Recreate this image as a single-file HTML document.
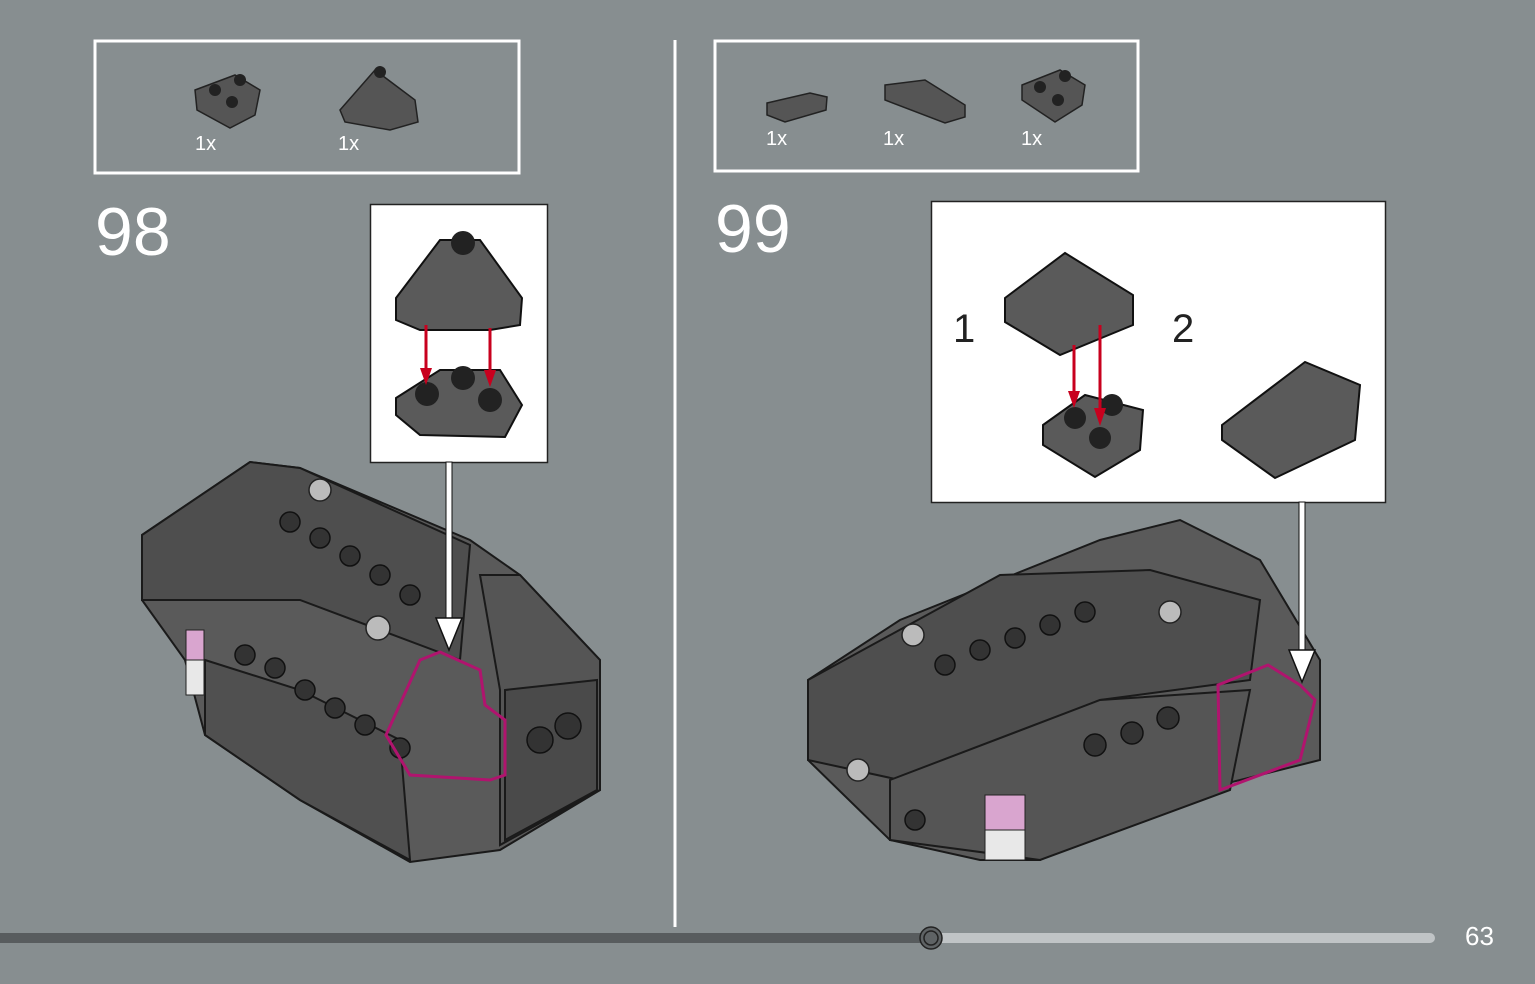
<!DOCTYPE html>
<html><head><meta charset="utf-8"><style>
html,body{margin:0;padding:0;background:#878e90;}
svg{display:block;font-family:"Liberation Sans",sans-serif;}
</style></head><body>
<svg width="1535" height="984" viewBox="0 0 1535 984" xmlns="http://www.w3.org/2000/svg">
<rect width="1535" height="984" fill="#878e90"/>
<line x1="675" y1="40" x2="675" y2="927" stroke="#fff" stroke-width="3"/>
<rect x="95" y="41" width="424" height="132" fill="none" stroke="#fff" stroke-width="3"/>
<rect x="715" y="41" width="423" height="130" fill="none" stroke="#fff" stroke-width="3"/>
<g fill="#555" stroke="#222" stroke-width="1.5">
<polygon points="195,90 235,75 260,90 255,115 230,128 197,110"/>
<polygon points="340,110 375,70 415,100 418,122 390,130 345,122"/>
<polygon points="767,103 810,93 827,97 826,110 785,122 767,115"/>
<polygon points="885,85 925,80 965,105 965,117 945,123 885,100"/>
<polygon points="1022,85 1060,70 1085,85 1082,105 1055,122 1022,100"/>
</g>
<g fill="#222"><circle cx="215" cy="90" r="6"/><circle cx="240" cy="80" r="6"/><circle cx="232" cy="102" r="6"/><circle cx="380" cy="72" r="6"/><circle cx="1040" cy="87" r="6"/><circle cx="1065" cy="76" r="6"/><circle cx="1058" cy="100" r="6"/></g>
<g fill="#fff" font-size="20"><text x="195" y="150">1x</text><text x="338" y="150">1x</text><text x="766" y="145">1x</text><text x="883" y="145">1x</text><text x="1021" y="145">1x</text></g>
<g fill="#fff" font-size="68"><text x="95" y="255">98</text><text x="715" y="252">99</text></g>
<!-- model 98 -->
<g fill="#5a5a5a" stroke="#1a1a1a" stroke-width="2">
<polygon points="142,535 250,462 300,468 470,540 520,575 600,660 600,790 500,850 410,862 300,800 205,735 185,660 142,600"/>
<polygon points="142,535 250,462 300,468 470,545 460,660 300,600 142,600" fill="#4e4e4e"/>
<polygon points="480,575 520,575 600,660 600,790 500,845 500,690" fill="#555"/>
<polygon points="205,660 300,690 400,740 410,860 300,800 205,735" fill="#505050"/>
<polygon points="505,690 597,680 597,790 505,840" fill="#4a4a4a"/>
</g>
<g fill="#333" stroke="#111" stroke-width="1.5">
<circle cx="290" cy="522" r="10"/><circle cx="320" cy="538" r="10"/><circle cx="350" cy="556" r="10"/><circle cx="380" cy="575" r="10"/><circle cx="410" cy="595" r="10"/>
<circle cx="245" cy="655" r="10"/><circle cx="275" cy="668" r="10"/><circle cx="305" cy="690" r="10"/><circle cx="335" cy="708" r="10"/><circle cx="365" cy="725" r="10"/><circle cx="400" cy="748" r="10"/>
<circle cx="540" cy="740" r="13"/><circle cx="568" cy="726" r="13"/>
</g>
<g fill="#bbb" stroke="#222" stroke-width="1.5"><circle cx="320" cy="490" r="11"/><circle cx="378" cy="628" r="12"/></g>
<!-- model 99 -->
<g fill="#5a5a5a" stroke="#1a1a1a" stroke-width="2">
<polygon points="808,680 900,620 1100,540 1180,520 1260,560 1320,660 1320,760 1200,790 1040,860 980,860 890,840 808,760"/>
<polygon points="808,680 1000,575 1150,570 1260,600 1250,680 1100,700 900,780 808,760" fill="#4e4e4e"/>
<polygon points="890,780 1100,700 1250,690 1230,790 1040,860 890,840" fill="#555"/>
</g>
<g fill="#333" stroke="#111" stroke-width="1.5">
<circle cx="945" cy="665" r="10"/><circle cx="980" cy="650" r="10"/><circle cx="1015" cy="638" r="10"/><circle cx="1050" cy="625" r="10"/><circle cx="1085" cy="612" r="10"/>
<circle cx="1095" cy="745" r="11"/><circle cx="1132" cy="733" r="11"/><circle cx="1168" cy="718" r="11"/><circle cx="915" cy="820" r="10"/>
</g>
<g fill="#bbb" stroke="#222" stroke-width="1.5"><circle cx="913" cy="635" r="11"/><circle cx="1170" cy="612" r="11"/><circle cx="858" cy="770" r="11"/></g>
<rect x="985" y="795" width="40" height="35" fill="#d9a5cf" stroke="#222"/>
<rect x="985" y="830" width="40" height="30" fill="#e8e8e8" stroke="#222"/>
<rect x="186" y="630" width="18" height="30" fill="#d9a5cf" stroke="#222"/>
<rect x="186" y="660" width="18" height="35" fill="#e8e8e8" stroke="#222"/>
<polygon points="386,735 420,660 440,652 480,670 485,705 505,720 505,775 490,780 410,775" fill="none" stroke="#b0146e" stroke-width="3"/>
<polygon points="1218,685 1268,665 1300,685 1315,700 1300,760 1220,790" fill="none" stroke="#b0146e" stroke-width="3"/>
<!-- insets -->
<rect x="370.5" y="204.5" width="177" height="258" fill="#fff" stroke="#222" stroke-width="1.5"/>
<rect x="931.5" y="201.5" width="454" height="301" fill="#fff" stroke="#222" stroke-width="1.5"/>
<g fill="#5a5a5a" stroke="#111" stroke-width="2">
<polygon points="396,298 440,240 480,240 522,298 520,325 490,330 420,330 396,320"/>
<polygon points="396,398 440,370 500,370 522,405 505,437 420,435 396,415"/>
<polygon points="1005,298 1065,253 1133,295 1133,325 1060,355 1005,322"/>
<polygon points="1043,425 1085,395 1143,410 1140,450 1095,477 1043,445"/>
<polygon points="1222,425 1305,362 1360,385 1355,440 1275,478 1222,440"/>
</g>
<g fill="#222"><circle cx="463" cy="243" r="12"/><circle cx="427" cy="394" r="12"/><circle cx="463" cy="378" r="12"/><circle cx="490" cy="400" r="12"/><circle cx="1075" cy="418" r="11"/><circle cx="1112" cy="405" r="11"/><circle cx="1100" cy="438" r="11"/></g>
<g stroke="#c8001e" stroke-width="3" fill="#c8001e">
<line x1="426" y1="325" x2="426" y2="370"/><polygon points="420,368 432,368 426,385" stroke="none"/>
<line x1="490" y1="328" x2="490" y2="372"/><polygon points="484,370 496,370 490,387" stroke="none"/>
<line x1="1074" y1="345" x2="1074" y2="393"/><polygon points="1068,391 1080,391 1074,408" stroke="none"/>
<line x1="1100" y1="325" x2="1100" y2="410"/><polygon points="1094,408 1106,408 1100,426" stroke="none"/>
</g>
<g fill="#222" font-size="40"><text x="953" y="342">1</text><text x="1172" y="342">2</text></g>
<rect x="446" y="462" width="6" height="160" fill="#fff" stroke="#111" stroke-width="1"/>
<polygon points="436,618 462,618 449,650" fill="#fff" stroke="#111" stroke-width="1.5"/>
<rect x="1299" y="502" width="6" height="150" fill="#fff" stroke="#111" stroke-width="1"/>
<polygon points="1289,650 1315,650 1302,682" fill="#fff" stroke="#111" stroke-width="1.5"/>
<rect x="930" y="933" width="505" height="10" rx="5" fill="#c0c4c6"/>
<rect x="0" y="933" width="930" height="10" fill="#585c5e"/>
<circle cx="931" cy="938" r="11" fill="#5f6365" stroke="#222" stroke-width="1.5"/>
<circle cx="931" cy="938" r="7" fill="none" stroke="#222" stroke-width="1.5"/>
<text x="1465" y="945" fill="#fff" font-size="26">63</text>
</svg>
</body></html>
